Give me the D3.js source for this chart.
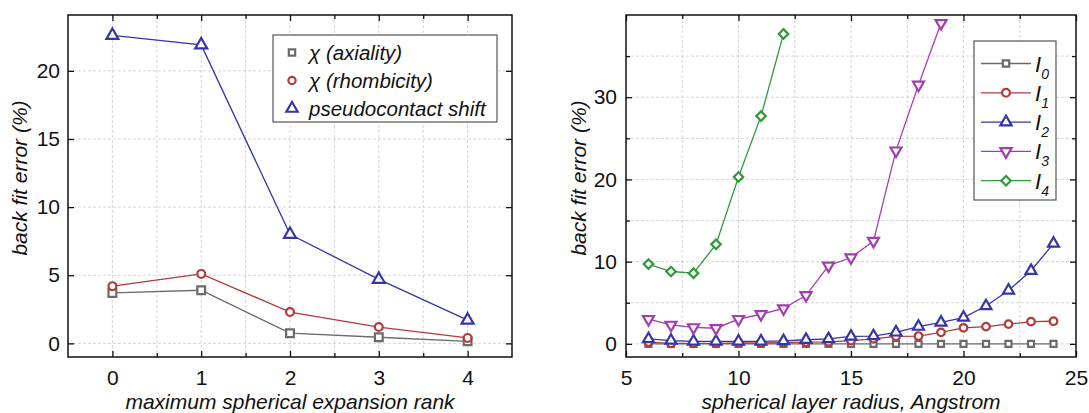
<!DOCTYPE html>
<html><head><meta charset="utf-8">
<script src="https://cdn.jsdelivr.net/npm/d3@7"></script>
<style>
body{margin:0;background:#fff;}
svg{display:block;font-family:"Liberation Sans",Arial,sans-serif;}
</style></head><body>
<svg id="c" width="1089" height="413"></svg>
<script>
// ---------- data ----------
const rankX = [0, 1, 2, 3, 4];
const axiality = [3.7, 3.9, 0.75, 0.45, 0.15];
const rhombicity = [4.2, 5.1, 2.3, 1.2, 0.4];
const pcs = [22.6, 21.9, 8.0, 4.7, 1.7];
const leftNames = ["\u03C7 (axiality)", "\u03C7 (rhombicity)", "pseudocontact shift"];

const radiusX = [6,7,8,9,10,11,12,13,14,15,16,17,18,19,20,21,22,23,24];
const I0 = [0,0,0,0,0,0,0,0,0,0,0,0,0,0,0,0,0,0,0];
const I1 = [0.2,0.05,0.05,0.05,0.1,0.1,0.15,0.2,0.25,0.4,0.6,0.9,0.95,1.4,1.95,2.1,2.4,2.7,2.75];
const I2 = [0.6,0.4,0.3,0.3,0.3,0.3,0.35,0.5,0.6,0.9,0.95,1.4,2.1,2.6,3.2,4.6,6.5,8.9,12.2];
const I3 = [3.0,2.3,2.0,1.9,3.0,3.6,4.3,5.9,9.5,10.5,12.5,23.5,31.5,39.0];
const I4 = [9.7,8.8,8.6,12.1,20.3,27.7,37.7];
const rightNames = ["0","1","2","3","4"];

const leftXTicks = [0,1,2,3,4];
const leftYTicks = [0,5,10,15,20];
const rightXTicks = [5,10,15,20,25];
const rightYTicks = [0,10,20,30];

const colors = {gray:"#6b6b6b", red:"#b23a3a", blue:"#3535a8", mag:"#a23cb0", green:"#2f9a3a"};

const svg = d3.select("#c");
const sq = d3.symbol().type(d3.symbolSquare);
const ci = d3.symbol().type(d3.symbolCircle);
const tr = d3.symbol().type(d3.symbolTriangle);

function panel(o){
  const g = svg.append("g");
  const x = d3.scaleLinear().domain(o.xd).range([o.l, o.r]);
  const y = d3.scaleLinear().domain(o.yd).range([o.b, o.t]);
  // grid
  const gx = d3.range(o.xd[0], o.xd[1]+1e-9, o.xgStep).filter(v=>v>o.xd[0]+1e-6 && v<o.xd[1]-1e-6);
  const gy = d3.range(0, o.yd[1], o.ygStep);
  g.selectAll(".gx").data(gx).join("line").attr("x1",d=>x(d)).attr("x2",d=>x(d)).attr("y1",o.t).attr("y2",o.b)
    .attr("stroke","#cacaca").attr("stroke-width",0.8).attr("stroke-dasharray","3,2");
  g.selectAll(".gy").data(gy).join("line").attr("y1",d=>y(d)).attr("y2",d=>y(d)).attr("x1",o.l).attr("x2",o.r)
    .attr("stroke","#cacaca").attr("stroke-width",0.8).attr("stroke-dasharray","3,2");
  // axes with inward ticks
  const fs = "21px";
  const fmt = d3.format("d");
  const bx = g.append("g").attr("transform",`translate(0,${o.b})`)
    .call(d3.axisBottom(x).tickValues(o.xTicks).tickFormat(fmt).tickSize(-6).tickPadding(13).tickSizeOuter(0));
  const tx = g.append("g").attr("transform",`translate(0,${o.t})`)
    .call(d3.axisTop(x).tickValues(o.xTicks).tickSize(-6).tickFormat("").tickSizeOuter(0));
  const ly = g.append("g").attr("transform",`translate(${o.l},0)`)
    .call(d3.axisLeft(y).tickValues(o.yTicks).tickFormat(fmt).tickSize(-6).tickPadding(o.yPad).tickSizeOuter(0));
  const ry = g.append("g").attr("transform",`translate(${o.r},0)`)
    .call(d3.axisRight(y).tickValues(o.yTicks).tickSize(-6).tickFormat("").tickSizeOuter(0));
  // minor ticks
  const mx = g.append("g").attr("transform",`translate(0,${o.b})`)
    .call(d3.axisBottom(x).tickValues(o.xMinor).tickSize(-4).tickFormat("").tickSizeOuter(0));
  const mxt = g.append("g").attr("transform",`translate(0,${o.t})`)
    .call(d3.axisTop(x).tickValues(o.xMinor).tickSize(-4).tickFormat("").tickSizeOuter(0));
  const axes=[bx,tx,ly,ry,mx,mxt];
  if(o.yMinor){
    axes.push(g.append("g").attr("transform",`translate(${o.l},0)`)
      .call(d3.axisLeft(y).tickValues(o.yMinor).tickSize(-4).tickFormat("").tickSizeOuter(0)));
    axes.push(g.append("g").attr("transform",`translate(${o.r},0)`)
      .call(d3.axisRight(y).tickValues(o.yMinor).tickSize(-4).tickFormat("").tickSizeOuter(0)));
  }
  axes.forEach(a=>{a.select(".domain").remove();a.selectAll("line").attr("stroke","#111").attr("stroke-width",1.3);
    a.selectAll("text").attr("font-size",fs).attr("fill","#111").attr("font-family","Liberation Sans, Arial, sans-serif");});
  g.append("rect").attr("x",o.l).attr("y",o.t).attr("width",o.r-o.l).attr("height",o.b-o.t)
    .attr("fill","none").attr("stroke","#111").attr("stroke-width",1.5);
  // titles
  g.append("text").attr("x",(o.l+o.r)/2).attr("y",409).attr("text-anchor","middle")
    .attr("font-size","21px").attr("font-style","italic").attr("fill","#111").text(o.xTitle);
  g.append("text").attr("transform",`translate(${o.yTitleX},178) rotate(-90)`).attr("text-anchor","middle")
    .attr("font-size","21px").attr("font-style","italic").attr("fill","#111").text("back fit error (%)");
  // series
  const clip = "clip"+o.id;
  svg.append("clipPath").attr("id",clip).append("rect").attr("x",o.l).attr("y",o.t).attr("width",o.r-o.l).attr("height",o.b-o.t);
  const sg = g.append("g").attr("clip-path",`url(#${clip})`);
  o.series.forEach(s=>{
    const pts = s.v.map((v,i)=>[o.xs[i],v]);
    sg.append("path").attr("d",d3.line().x(d=>x(d[0])).y(d=>y(d[1]))(pts))
      .attr("fill","none").attr("stroke",s.c).attr("stroke-width",1.3);
  });
  o.series.forEach(s=>{
    const pts = s.v.map((v,i)=>[o.xs[i],v]);
    sg.selectAll(null).data(pts).join("path")
      .attr("d",s.sym).attr("transform",d=>`translate(${x(d[0])},${y(d[1])}) rotate(${s.rot||0})`)
      .attr("fill","#fff").attr("stroke",s.c).attr("stroke-width",2.2);
  });
  return {g,x,y};
}

// Left panel
const L = panel({id:"L", l:68, r:512, t:15, b:357, xd:[-0.5,4.5], yd:[-1,24.1],
  xgStep:0.5, ygStep:5, xTicks:leftXTicks, yTicks:leftYTicks, xMinor:[0.5,1.5,2.5,3.5], yPad:8,
  xTitle:"maximum spherical expansion rank", yTitleX:27, xs:rankX,
  series:[
    {v:axiality, c:colors.gray, sym:sq.size(60)()},
    {v:rhombicity, c:colors.red, sym:ci.size(48)()},
    {v:pcs, c:colors.blue, sym:tr.size(62)()}
  ]});

// Right panel
const R = panel({id:"R", l:626, r:1076, t:15, b:357, xd:[5,25], yd:[-1.6,40],
  xgStep:2.5, ygStep:5, xTicks:rightXTicks, yTicks:rightYTicks, xMinor:[7.5,12.5,17.5,22.5],
  yMinor:[5,15,25,35], yPad:9,
  xTitle:"spherical layer radius, Angstrom", yTitleX:586, xs:radiusX,
  series:[
    {v:I0, c:colors.gray, sym:sq.size(36)()},
    {v:I1, c:colors.red, sym:ci.size(45)()},
    {v:I2, c:colors.blue, sym:tr.size(52)()},
    {v:I3, c:colors.mag, sym:tr.size(52)(), rot:180},
    {v:I4, c:colors.green, sym:sq.size(45)(), rot:45}
  ]});

// Left legend
const lg = svg.append("g");
lg.append("rect").attr("x",273).attr("y",35).attr("width",224).attr("height",87)
  .attr("fill","#fff").attr("stroke","#555").attr("stroke-width",1.2);
const leftLeg = [
  {c:colors.gray, sym:sq.size(40)()},
  {c:colors.red, sym:ci.size(42)()},
  {c:colors.blue, sym:tr.size(55)()}
];
leftNames.forEach((n,i)=>{
  const yy = 52.5 + i*28;
  lg.append("path").attr("d",leftLeg[i].sym).attr("transform",`translate(292,${yy})`)
    .attr("fill","#fff").attr("stroke",leftLeg[i].c).attr("stroke-width",2.2);
  lg.append("text").attr("x",309).attr("y",yy+7).attr("font-size","20.5px").attr("font-style","italic")
    .attr("fill","#111").text(n);
});

// Right legend
const rg = svg.append("g");
rg.append("rect").attr("x",974).attr("y",41).attr("width",82).attr("height",159)
  .attr("fill","#fff").attr("stroke","#555").attr("stroke-width",1.2);
const rightLeg = [
  {c:colors.gray, sym:sq.size(40)()},
  {c:colors.red, sym:ci.size(48)()},
  {c:colors.blue, sym:tr.size(55)()},
  {c:colors.mag, sym:tr.size(55)(), rot:180},
  {c:colors.green, sym:sq.size(45)(), rot:45}
];
rightNames.forEach((n,i)=>{
  const yy = 63.5 + i*29.3;
  rg.append("line").attr("x1",981).attr("x2",1031).attr("y1",yy).attr("y2",yy)
    .attr("stroke",rightLeg[i].c).attr("stroke-width",1.3);
  rg.append("path").attr("d",rightLeg[i].sym).attr("transform",`translate(1006,${yy}) rotate(${rightLeg[i].rot||0})`)
    .attr("fill","#fff").attr("stroke",rightLeg[i].c).attr("stroke-width",2.2);
  const t = rg.append("text").attr("x",1035).attr("y",yy+8).attr("font-size","22px").attr("font-style","italic").attr("fill","#111");
  t.append("tspan").text("I");
  t.append("tspan").attr("dy",7).attr("font-size","14px").text(n);
});
</script>
</body></html>
